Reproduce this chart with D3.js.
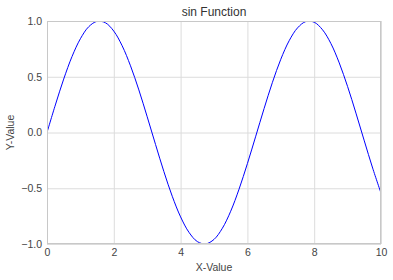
<!DOCTYPE html>
<html><head><meta charset="utf-8">
<script src="https://cdn.jsdelivr.net/npm/d3@7"></script>
<style>
html,body{margin:0;padding:0;background:#fff;}
text{font-family:"Liberation Sans",Arial,sans-serif;}
</style></head>
<body><svg id="c" width="393" height="280"></svg>
<script>
const xValues = [0,0.25,0.5,0.75,1,1.25,1.5,1.75,2,2.25,2.5,2.75,3,3.25,3.5,3.75,4,4.25,4.5,4.75,5,5.25,5.5,5.75,6,6.25,6.5,6.75,7,7.25,7.5,7.75,8,8.25,8.5,8.75,9,9.25,9.5,9.75,10];
const yValues = [0,0.247,0.479,0.682,0.841,0.949,0.997,0.984,0.909,0.778,0.598,0.382,0.141,-0.108,-0.351,-0.572,-0.757,-0.895,-0.978,-0.999,-0.959,-0.859,-0.706,-0.508,-0.279,-0.033,0.215,0.450,0.657,0.823,0.938,0.995,0.989,0.921,0.798,0.624,0.412,0.174,-0.075,-0.319,-0.544];
const xTicks = [0,2,4,6,8,10];
const yTicks = [-1.0,-0.5,0.0,0.5,1.0];
const title = "sin Function", xLabel = "X-Value", yLabel = "Y-Value";

const svg = d3.select("#c");
const L=47, R=381, T=21, B=244;
const x = d3.scaleLinear().domain([0,10]).range([L,R]);
const y = d3.scaleLinear().domain([-1,1]).range([B,T]);

// grid
svg.append("g").attr("transform",`translate(0,${B})`)
  .call(d3.axisBottom(x).tickValues(xTicks).tickSize(-(B-T)).tickFormat(""))
  .call(g=>{g.select(".domain").remove();g.selectAll("line").attr("stroke","#dcdcdc").attr("stroke-width",1);});
svg.append("g").attr("transform",`translate(${L},0)`)
  .call(d3.axisLeft(y).tickValues(yTicks).tickSize(-(R-L)).tickFormat(""))
  .call(g=>{g.select(".domain").remove();g.selectAll("line").attr("stroke","#dcdcdc").attr("stroke-width",1);});

// line
const clip = svg.append("clipPath").attr("id","pc").append("rect").attr("x",L).attr("y",T).attr("width",R-L).attr("height",B-T);
const data = xValues.map((v,i)=>[v,yValues[i]]);
svg.append("path").datum(data).attr("clip-path","url(#pc)")
  .attr("fill","none").attr("stroke","#0000ff").attr("stroke-width",1)
  .attr("d",d3.line().x(d=>x(d[0])).y(d=>y(d[1])).curve(d3.curveCatmullRom));

// frame
svg.append("rect").attr("x",L+0.5).attr("y",T+0.5).attr("width",R-L-1).attr("height",B-T-1)
  .attr("fill","none").attr("stroke","#c8c8c8").attr("stroke-width",1);

// tick labels
const tickStyle = g=>{g.select(".domain").remove();g.selectAll("line").remove();
  g.selectAll("text").attr("fill","#444").attr("font-size","10.5px").style("font-family","'Liberation Sans',Arial,sans-serif");};
svg.append("g").attr("transform",`translate(0,${B})`)
  .call(d3.axisBottom(x).tickValues(xTicks).tickSize(0).tickPadding(5).tickFormat(d3.format("d")))
  .call(tickStyle);
svg.append("g").attr("transform",`translate(${L},0)`)
  .call(d3.axisLeft(y).tickValues(yTicks).tickSize(0).tickPadding(5).tickFormat(d=>d3.format(".1f")(d).replace("-","\u2212")))
  .call(tickStyle);

svg.append("text").attr("x",(L+R)/2).attr("y",16).attr("text-anchor","middle")
  .attr("font-size","12px").attr("fill","#333").text(title);
svg.append("text").attr("x",(L+R)/2).attr("y",271).attr("text-anchor","middle")
  .attr("font-size","10.5px").attr("fill","#444").text(xLabel);
svg.append("text").attr("transform",`translate(14,${(T+B)/2}) rotate(-90)`).attr("text-anchor","middle")
  .attr("font-size","10.5px").attr("fill","#444").text(yLabel);
</script></body></html>
